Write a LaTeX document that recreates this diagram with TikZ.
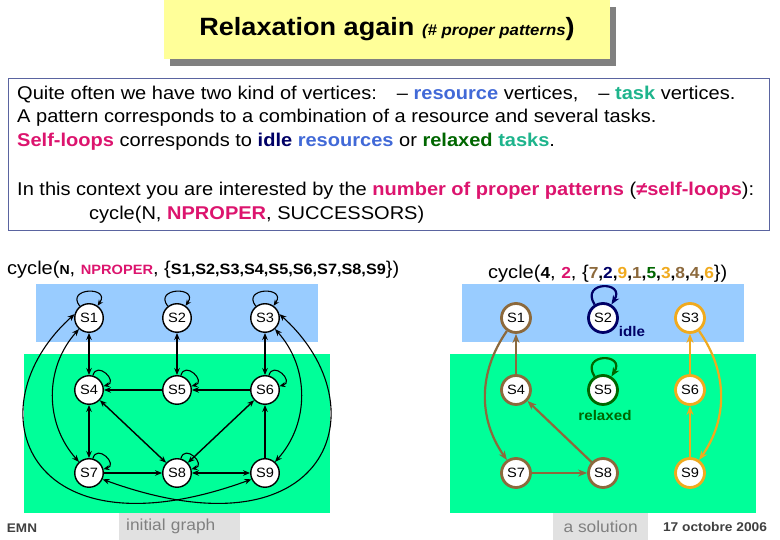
\documentclass[tikz,border=0pt]{standalone}
\usepackage{fontspec}
\setmainfont{Liberation Sans}[FakeStretch=1.083]
\usetikzlibrary{arrows.meta, positioning, shadows}

\definecolor{titleyellow}{RGB}{255,255,153}
\definecolor{shadowgray}{RGB}{128,128,128}
\definecolor{boxframe}{RGB}{90,100,160}
\definecolor{resblue}{RGB}{65,105,215}
\definecolor{taskteal}{RGB}{30,180,140}
\definecolor{selfmag}{RGB}{220,20,110}
\definecolor{idlenavy}{RGB}{0,0,102}
\definecolor{relaxgreen}{RGB}{0,102,0}
\definecolor{regblue}{RGB}{153,204,255}
\definecolor{reggreen}{RGB}{0,255,153}
\definecolor{solbrown}{RGB}{140,105,60}
\definecolor{solorange}{RGB}{240,170,30}
\definecolor{taggray}{RGB}{225,225,225}
\definecolor{labelgray}{RGB}{128,128,128}
\definecolor{emngray}{RGB}{64,64,64}

\newcommand{\bsz}[2]{{\fontsize{#1}{#1}\selectfont\bfseries #2}}

\begin{document}
\begin{tikzpicture}[x=1pt, y=1pt,
    state/.style={circle, draw, fill=white, line width=1.4pt, minimum size=28.5pt, inner sep=0pt, font=\fontsize{13.5}{13.5}\selectfont},
    solstate/.style={state, line width=2.8pt, minimum size=29pt, draw=#1},
    arc/.style={-{Stealth[length=7pt,width=5.5pt]}, line width=1.1pt},
    biarc/.style={{Stealth[length=7pt,width=5.5pt]}-{Stealth[length=7pt,width=5.5pt]}, line width=1.1pt},
    heavy/.style={line width=1.8pt},
    selfloop/.style={-{Stealth[length=6pt,width=5pt]}, line width=1.1pt},
    solarc/.style={-{Stealth[length=9pt,width=7pt]}, line width=2.2pt, draw=#1},
    txt/.style={anchor=west, inner sep=0pt, text height=13pt, text depth=4pt, font=\fontsize{18.5}{22}\selectfont},
    tag/.style={fill=taggray, text=labelgray, inner sep=0pt, minimum height=27pt, font=\fontsize{16}{16}\selectfont}
]
\useasboundingbox (0,0) rectangle (780,540);

\fill[regblue] (36,198) rectangle (318,256);
\fill[reggreen] (24,27) rectangle (330,186);
\fill[regblue] (462,198) rectangle (744,256);
\fill[reggreen] (450,27) rectangle (756,186);

\node[fill=titleyellow, minimum width=446pt, minimum height=59pt, inner sep=0pt,
      drop shadow={shadow xshift=6pt, shadow yshift=-7pt, fill=shadowgray, opacity=1},
      font=\fontsize{25}{25}\selectfont\bfseries] (title) at (387,510.5)
      {Relaxation again {\fontsize{15.5}{15.5}\selectfont\itshape (\# proper patterns}\/)};

\node[draw=boxframe, line width=0.8pt, minimum width=761pt, minimum height=152pt] (info) at (388.5,386) {};
\node[txt] (l1) at (17,445) {Quite often we have two kind of vertices:\hspace{20pt}– \textcolor{resblue}{\textbf{resource}} vertices,\hspace{20pt}– \textcolor{taskteal}{\textbf{task}} vertices.};
\node[txt] (l2) at (17,422) {A pattern corresponds to a combination of a resource and several tasks.};
\node[txt] (l3) at (17,398) {\textcolor{selfmag}{\textbf{Self-loops}} corresponds to \textcolor{idlenavy}{\textbf{idle}} \textcolor{resblue}{\textbf{resources}} or \textcolor{relaxgreen}{\textbf{relaxed}} \textcolor{taskteal}{\textbf{tasks}}.};
\node[txt] (l4) at (17,349) {In this context you are interested by the \textcolor{selfmag}{\textbf{number of proper patterns}} (\textcolor{selfmag}{\textbf{≠self-loops}}):};
\node[txt] (l5) at (89,325) {cycle(N, \textcolor{selfmag}{\textbf{NPROPER}}, SUCCESSORS)};

\node[txt] (head1) at (7,270) {cycle(\bsz{13}{N}, \bsz{13.5}{\textcolor{selfmag}{NPROPER}}, \{\bsz{15}{S1,S2,S3,S4,S5,S6,S7,S8,S9}\})};
\node[txt] (head2) at (488,266) {cycle(\bsz{16}{4}, \bsz{16}{\textcolor{selfmag}{2}}, \{\bsz{16}{\textcolor{solbrown}{7},\textcolor{idlenavy}{2},\textcolor{solorange}{9},\textcolor{solbrown}{1},\textcolor{relaxgreen}{5},\textcolor{solorange}{3},\textcolor{solbrown}{8},\textcolor{solbrown}{4},\textcolor{solorange}{6}}\})};

\node[state] (i1) at (89,222) {S1};
\node[state] (i2) at (177,222) {S2};
\node[state] (i3) at (265,222) {S3};
\node[state] (i4) at (89,150) {S4};
\node[state] (i5) at (177,150) {S5};
\node[state] (i6) at (265,150) {S6};
\node[state] (i7) at (89,67) {S7};
\node[state] (i8) at (177,67) {S8};
\node[state] (i9) at (265,67) {S9};

\draw[selfloop] (i1) to[out=128,in=55,min distance=24pt] (i1);
\draw[selfloop] (i2) to[out=128,in=55,min distance=24pt] (i2);
\draw[selfloop] (i3) to[out=128,in=55,min distance=24pt] (i3);
\draw[selfloop] (i4) to[out=75,in=15,min distance=16pt] (i4);
\draw[selfloop] (i5) to[out=75,in=15,min distance=16pt] (i5);
\draw[selfloop] (i6) to[out=75,in=15,min distance=16pt] (i6);
\draw[selfloop] (i7) to[out=75,in=15,min distance=16pt] (i7);
\draw[selfloop] (i8) to[out=75,in=15,min distance=16pt] (i8);

\draw[biarc, heavy] (i1) -- (i4);
\draw[biarc, heavy] (i2) -- (i5);
\draw[biarc, heavy] (i3) -- (i6);
\draw[biarc, heavy] (i4) -- (i7);
\draw[arc] (i5) -- (i4);
\draw[arc] (i6) -- (i5);
\draw[biarc, line width=1.4pt] (i4) -- (i8);
\draw[biarc, line width=1.4pt] (i8) -- (i6);
\draw[arc, line width=1.4pt] (i9) -- (i6);
\draw[arc] (i7) -- (i8);
\draw[biarc] (i8) -- (i9);
\draw[biarc] (i1) to[out=228,in=132] (i7);
\draw[biarc] (i3) to[out=312,in=48] (i9);
\draw[biarc] (i1.165) .. controls +(222:140) and +(200:240) .. (i9.205);
\draw[biarc] (i3.15) .. controls +(318:140) and +(340:240) .. (i7.335);

\node[solstate=solbrown] (x1) at (516,222) {S1};
\node[solstate=idlenavy] (x2) at (603,222) {S2};
\node[solstate=solorange] (x3) at (690,222) {S3};
\node[solstate=solbrown] (x4) at (516,150) {S4};
\node[solstate=relaxgreen] (x5) at (603,150) {S5};
\node[solstate=solorange] (x6) at (690,150) {S6};
\node[solstate=solbrown] (x7) at (516,67) {S7};
\node[solstate=solbrown] (x8) at (603,67) {S8};
\node[solstate=solorange] (x9) at (690,67) {S9};

\draw[solarc=idlenavy] (x2) to[out=122,in=58,min distance=28pt] (x2);
\draw[solarc=relaxgreen] (x5) to[out=122,in=58,min distance=28pt] (x5);
\draw[solarc=solbrown] (x1) to[out=235,in=125] (x7);
\draw[solarc=solbrown] (x4) -- (x1);
\draw[solarc=solbrown] (x7) -- (x8);
\draw[solarc=solbrown] (x8) -- (x4);
\draw[solarc=solorange] (x3) to[out=305,in=55] (x9);
\draw[solarc=solorange] (x9) -- (x6);
\draw[solarc=solorange] (x6) -- (x3);

\node[text=idlenavy, font=\fontsize{14}{14}\selectfont\bfseries] (idle) at (632,208) {idle};
\node[text=relaxgreen, font=\fontsize{14}{14}\selectfont\bfseries] (relaxed) at (605,124) {relaxed};

\node[text=emngray, font=\fontsize{12.5}{12.5}\selectfont\bfseries] (emn) at (22,12) {EMN};
\node[tag, minimum width=121pt, anchor=south west, text width=107pt, align=left, inner xsep=7pt] (tag1) at (119,0) {initial graph};
\node[tag, minimum width=95pt, anchor=south west] (tag2) at (553,0) {a solution};
\node[text=emngray, font=\fontsize{12.7}{12.7}\selectfont\bfseries] (date) at (715,13) {17 octobre 2006};
\end{tikzpicture}
\end{document}
